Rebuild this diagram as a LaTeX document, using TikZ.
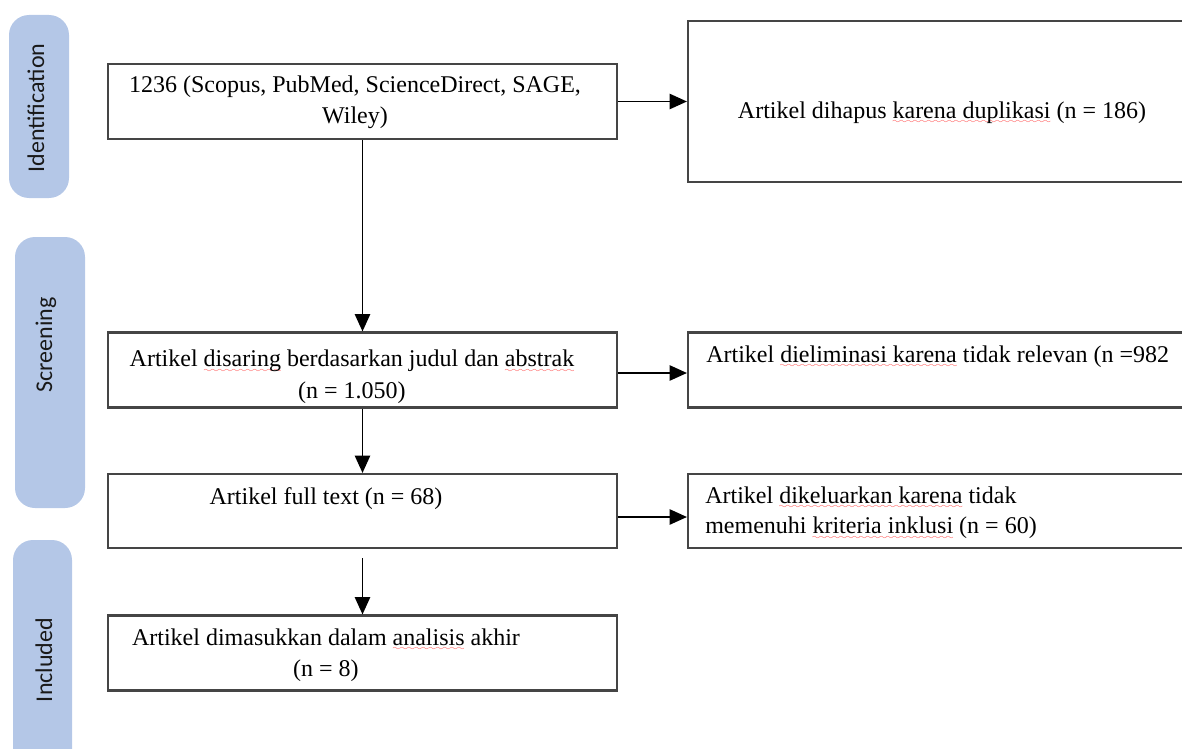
\documentclass[tikz,border=0pt]{standalone}
\usepackage{fontspec}
\setmainfont{Liberation Serif}
\newfontfamily\pillfont{Carlito}
\usetikzlibrary{arrows.meta}
\definecolor{pillblue}{HTML}{B4C7E7}
\definecolor{boxline}{HTML}{454545}
\font\sixly=lasy6
\newcommand\squig[1]{\setbox0=\hbox{#1}\rlap{\lower4pt\hbox to \wd0{\color{red!80}\xleaders\hbox{\sixly\char58}\hfil}}\box0\relax}
\tikzset{
  box/.style={draw=boxline, line width=1.6pt, minimum width=381.75pt, minimum height=56.25pt, inner sep=0pt},
  txt/.style={font=\fontsize{18}{23}\selectfont, inner sep=0pt},
  pill/.style={fill=pillblue, rounded corners=15pt},
  stage/.style={font=\pillfont\fontsize{18}{22}\selectfont, text=black!90, rotate=90, inner sep=0pt},
  arr/.style={-{Triangle[length=13pt,width=11.5pt]}, line width=1.2pt}
}
\begin{document}
\begin{tikzpicture}[x=0.75pt,y=-0.75pt]
\useasboundingbox (0,0) rectangle (1182,749);
\clip (0,0) rectangle (1182,749);
\fill[pill] (9,15) rectangle (69,198);
\node[stage] (idl) at (36,108) {Identification};
\fill[pill] (15,237) rectangle (85,508);
\node[stage] (scl) at (46,345) {Screening};
\fill[pill] (13,540) rectangle (72,775);
\node[stage] (inl) at (44,660) {Included};
\node[box] (src) at (362.5,101.5) {};
\node[box, minimum height=120.75pt] (dup) at (942.5,101.5) {};
\node[box] (scr) at (362.5,370) {};
\node[box] (elim) at (942.5,370) {};
\node[box, minimum height=55.5pt] (full) at (362.5,511) {};
\node[box, minimum height=55.5pt] (excl) at (942.5,511) {};
\node[box] (incl) at (362.5,653) {};
\node[txt, align=center] (srct) at (355,102) {1236 (Scopus, PubMed, ScienceDirect, SAGE,\\Wiley)};
\node[txt] (dupt) at (942,113) {Artikel dihapus \squig{karena duplikasi} (n = 186)};
\node[txt, align=center, font=\fontsize{18}{24}\selectfont] (scrt) at (352,377) {Artikel \squig{disaring} berdasarkan judul dan \squig{abstrak}\\(n = 1.050)};
\node[txt, anchor=west] (elimt) at (706,357) {Artikel \squig{dieliminasi karena} tidak relevan (n =982};
\node[txt] (fullt) at (326,499) {Artikel full text (n = 68)};
\node[txt, align=left, anchor=west] (exclt) at (705,513) {Artikel \squig{dikeluarkan karena} tidak\\memenuhi \squig{kriteria inklusi} (n = 60)};
\node[txt, align=center] (inclt) at (326,655) {Artikel dimasukkan dalam \squig{analisis} akhir\\(n = 8)};
\draw[arr] (src) -- (dup);
\draw[arr] (src) -- (scr);
\draw[arr] ([yshift=-2.25pt]scr.east) -- ([yshift=-2.25pt]elim.west);
\draw[arr] (scr) -- (full);
\draw[arr] ([yshift=-4.5pt]full.east) -- ([yshift=-4.5pt]excl.west);
\draw[arr, shorten <=7pt] (full) -- (incl);
\end{tikzpicture}
\end{document}
